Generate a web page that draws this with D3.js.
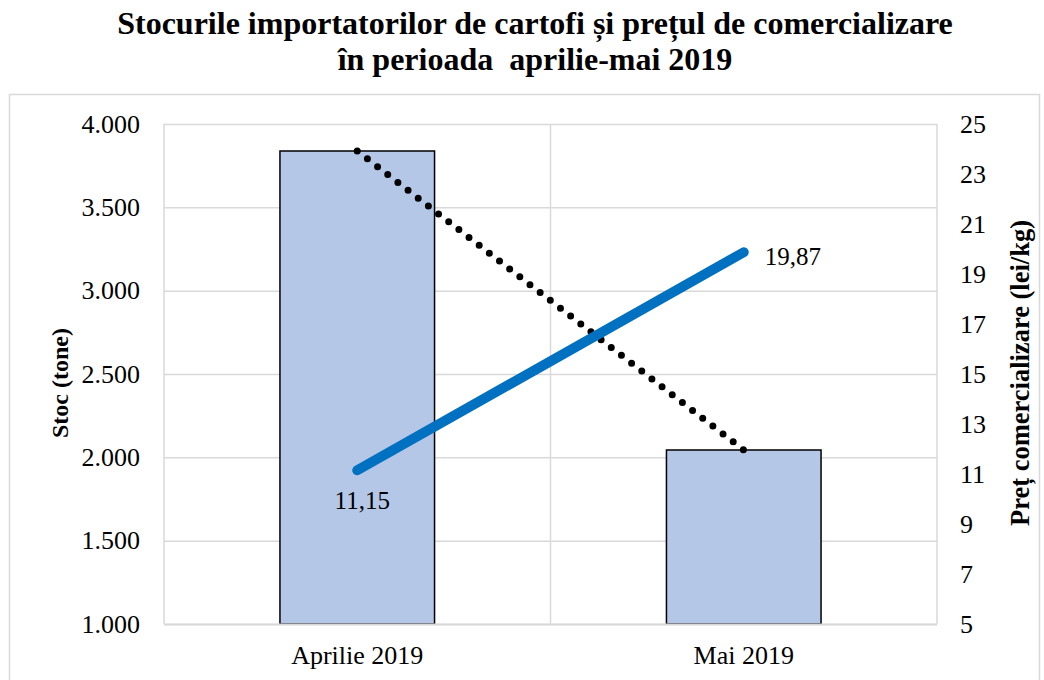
<!DOCTYPE html>
<html><head><meta charset="utf-8">
<script src="https://cdn.jsdelivr.net/npm/d3@7"></script>
<style>body{margin:0;background:#fff}svg{display:block}text{font-family:"Liberation Serif","Times New Roman",serif;fill:#000;white-space:pre}</style>
</head><body>
<svg id="c" width="1044" height="680"></svg>
<script>
const categories = ["Aprilie 2019", "Mai 2019"];
const stockValues = [3838, 2044];
const priceValues = [11.15, 19.87];
const priceLabels = ["11,15", "19,87"];
const leftTicks = [1000, 1500, 2000, 2500, 3000, 3500, 4000];
const rightTicks = [5, 7, 9, 11, 13, 15, 17, 19, 21, 23, 25];
const titleLines = ["Stocurile importatorilor de cartofi și prețul de comercializare", "în perioada  aprilie-mai 2019"];

const svg = d3.select("#c");
const L = 164, R = 937, T = 124, B = 624;

svg.append("rect").attr("x", 9.5).attr("y", 94.5).attr("width", 1030).attr("height", 600)
  .attr("fill", "none").attr("stroke", "#d9d9d9").attr("stroke-width", 1.5);

titleLines.forEach((t, i) => svg.append("text").attr("x", 535).attr("y", 34 + i * 36)
  .attr("text-anchor", "middle").attr("font-size", 32).attr("font-weight", "bold").text(t));

const x = d3.scaleBand().domain(categories).range([L, R]);
const yL = d3.scaleLinear().domain([1000, 4000]).range([B, T]);
const yR = d3.scaleLinear().domain([5, 25]).range([B, T]);
const fmt = d => d3.format(",")(d).replace(/,/g, ".");

// gridlines
svg.append("g").selectAll("line").data(leftTicks).join("line")
  .attr("x1", L).attr("x2", R).attr("y1", d => yL(d) + 0.5).attr("y2", d => yL(d) + 0.5)
  .attr("stroke", "#d9d9d9").attr("stroke-width", 1.5);
const vx = [L, ...categories.map(c => x(c) + x.bandwidth())];
svg.append("g").selectAll("line").data(vx).join("line")
  .attr("x1", d => d).attr("x2", d => d).attr("y1", T).attr("y2", B)
  .attr("stroke", "#d9d9d9").attr("stroke-width", 1.5);

// bars
const bw = x.bandwidth() * 0.4;
svg.append("g").selectAll("rect").data(categories).join("rect")
  .attr("x", (c) => x(c) + x.bandwidth() / 2 - bw / 2)
  .attr("y", (c, i) => yL(stockValues[i]))
  .attr("width", bw).attr("height", (c, i) => B - yL(stockValues[i]))
  .attr("fill", "#b4c7e7").attr("stroke", "#000").attr("stroke-width", 1.5);

// x axis line
svg.append("line").attr("x1", L).attr("x2", R).attr("y1", B + 0.5).attr("y2", B + 0.5)
  .attr("stroke", "#d9d9d9").attr("stroke-width", 2);

const styleAxis = g => {
  g.select(".domain").remove();
  g.attr("font-family", null).attr("font-size", null);
  g.selectAll("text").attr("font-size", 26).attr("fill", "#000");
};

// left axis
svg.append("g").attr("transform", `translate(${L},0)`)
  .call(d3.axisLeft(yL).tickValues(leftTicks).tickFormat(fmt).tickSize(0).tickPadding(24))
  .call(styleAxis);

// right axis
svg.append("g").attr("transform", `translate(${R},0)`)
  .call(d3.axisRight(yR).tickValues(rightTicks).tickSize(0).tickPadding(23))
  .call(styleAxis);

// x axis labels
svg.append("g").attr("transform", `translate(0,${B})`)
  .call(d3.axisBottom(x).tickSize(0).tickPadding(22))
  .call(styleAxis);

// axis titles
svg.append("text").attr("transform", "translate(68,383) rotate(-90)").attr("text-anchor", "middle")
  .attr("font-size", 24).attr("font-weight", "bold").text("Stoc (tone)");
svg.append("text").attr("transform", "translate(1029,373) rotate(-90)").attr("text-anchor", "middle")
  .attr("font-size", 26.5).attr("font-weight", "bold").text("Preț comercializare (lei/kg)");

const cx = c => x(c) + x.bandwidth() / 2;

// dotted stock line
const dotted = svg.append("path").datum(categories)
  .attr("d", d3.line().x(c => cx(c)).y((c, i) => yL(stockValues[i])))
  .attr("fill", "none").attr("stroke", "#000").attr("stroke-width", 7)
  .attr("stroke-linecap", "round");
const len = dotted.node().getTotalLength();
const nDots = Math.round(len / 13);
const gap = (len - 0.5) / nDots;
dotted.attr("stroke-dasharray", `0 ${gap}`);

// price line
svg.append("path").datum(categories)
  .attr("d", d3.line().x(c => cx(c)).y((c, i) => yR(priceValues[i])))
  .attr("fill", "none").attr("stroke", "#0070c0").attr("stroke-width", 10)
  .attr("stroke-linecap", "round");

// price labels
svg.append("text").attr("x", cx(categories[0]) + 5).attr("y", yR(priceValues[0]) + 39)
  .attr("text-anchor", "middle").attr("font-size", 25).text(priceLabels[0]);
svg.append("text").attr("x", cx(categories[1]) + 21).attr("y", yR(priceValues[1]) + 13)
  .attr("text-anchor", "start").attr("font-size", 25).text(priceLabels[1]);
</script>
</body></html>
